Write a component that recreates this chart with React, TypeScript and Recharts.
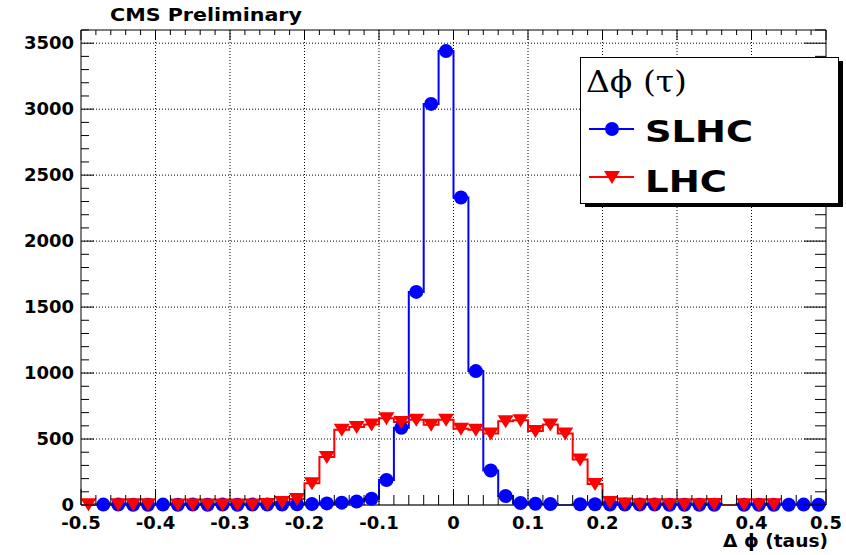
import { LineChart, Line, XAxis, YAxis, CartesianGrid, Legend, Label, ReferenceLine } from 'recharts';

// bin centres, 0.02 wide bins from -0.5 to 0.5
const binCenters = [
  -0.49, -0.47, -0.45, -0.43, -0.41, -0.39, -0.37, -0.35, -0.33, -0.31,
  -0.29, -0.27, -0.25, -0.23, -0.21, -0.19, -0.17, -0.15, -0.13, -0.11,
  -0.09, -0.07, -0.05, -0.03, -0.01, 0.01, 0.03, 0.05, 0.07, 0.09,
  0.11, 0.13, 0.15, 0.17, 0.19, 0.21, 0.23, 0.25, 0.27, 0.29,
  0.31, 0.33, 0.35, 0.37, 0.39, 0.41, 0.43, 0.45, 0.47, 0.49,
];

const slhcCounts = [
  0, 3, 3, 2, 2, 3, 2, 3, 2, 3,
  2, 3, 3, 4, 5, 7, 12, 18, 27, 47,
  190, 585, 1615, 3040, 3440, 2330, 1015, 262, 68, 15,
  10, 8, 0, 6, 6, 4, 3, 3, 3, 2,
  2, 2, 2, 0, 2, 2, 2, 2, 3, 2,
];

const lhcCounts = [
  5, 0, 5, 5, 5, 0, 4, 4, 4, 4,
  4, 4, 8, 22, 45, 165, 363, 570, 592, 610,
  658, 630, 646, 608, 646, 578, 570, 542, 634, 642,
  560, 610, 542, 345, 160, 22, 12, 5, 5, 5,
  5, 5, 8, 0, 5, 5, 5, 0, 0, 0,
];

const xMajorTicks = [-0.5, -0.4, -0.3, -0.2, -0.1, 0, 0.1, 0.2, 0.3, 0.4, 0.5];
const yMajorTicks = [0, 500, 1000, 1500, 2000, 2500, 3000, 3500];

const data = binCenters.map((x, i) => ({ x, slhc: slhcCounts[i], lhc: lhcCounts[i] }));

const xTicks = Array.from({ length: 51 }, (_, i) => Number((-0.5 + i * 0.02).toFixed(2)));
const yTicks = Array.from({ length: 37 }, (_, i) => i * 100);

const PLOT_TOP = 30;
const PLOT_RIGHT = 826;
const FONT = 'DejaVu Sans';

const isMajorX = (v: number) => xMajorTicks.some((m) => Math.abs(m - v) < 1e-6);
const fmtX = (v: number) => (Math.abs(v) < 1e-9 ? '0' : v.toFixed(1));

function XTick(props: any) {
  const { x, y, payload } = props;
  const v = payload.value;
  const major = isMajorX(v);
  return (
    <g>
      <line x1={x} x2={x} y1={y} y2={y - (major ? 16 : 10)} stroke="#000" />
      <line x1={x} x2={x} y1={PLOT_TOP} y2={PLOT_TOP + (major ? 10 : 5)} stroke="#000" />
      {major && (
        <text x={x} y={y + 24} textAnchor="middle" fontFamily={FONT} fontWeight="bold" fontSize={18} fill="#000">
          {fmtX(v)}
        </text>
      )}
    </g>
  );
}

function YTick(props: any) {
  const { x, y, payload } = props;
  const v = payload.value;
  const major = v % 500 === 0 && v <= 3500;
  return (
    <g>
      <line x1={x} x2={x + (major ? 13 : 8)} y1={y} y2={y} stroke="#000" />
      <line x1={PLOT_RIGHT - (major ? 22 : 11)} x2={PLOT_RIGHT} y1={y} y2={y} stroke="#000" />
      {major && (
        <text x={x - 7} y={y + 5.5} textAnchor="end" fontFamily={FONT} fontWeight="bold" fontSize={18} fill="#000">
          {v}
        </text>
      )}
    </g>
  );
}

function CircleDot(props: any) {
  const { cx, cy, payload, index } = props;
  if (!payload.slhc) return <g key={`c${index}`} />;
  return <circle key={`c${index}`} cx={cx} cy={cy} r={7} fill="#0000ff" />;
}

function TriangleDot(props: any) {
  const { cx, cy, payload, index } = props;
  if (!payload.lhc) return <g key={`t${index}`} />;
  return (
    <polygon
      key={`t${index}`}
      points={`${cx - 8},${cy - 6} ${cx + 8},${cy - 6} ${cx},${cy + 7}`}
      fill="#ff0000"
    />
  );
}

function LegendBox() {
  return (
    <svg width={266} height={152} style={{ display: 'block' }}>
      <rect x={5} y={4} width={258} height={146} fill="#000" />
      <rect x={0.5} y={0.5} width={258} height={146} fill="#fff" stroke="#000" />
      <text x={6} y={35} fontFamily="DejaVu Serif" fontSize={29} textLength={101} lengthAdjust="spacingAndGlyphs" fill="#000">
        Δϕ (τ)
      </text>
      <line x1={9} x2={54} y1={72} y2={72} stroke="#0000ff" strokeWidth={2} />
      <circle cx={32} cy={72} r={7} fill="#0000ff" />
      <text x={65} y={85} fontFamily={FONT} fontWeight="bold" fontSize={30} textLength={108} lengthAdjust="spacingAndGlyphs" fill="#000">
        SLHC
      </text>
      <line x1={9} x2={54} y1={120} y2={120} stroke="#ff0000" strokeWidth={2} />
      <polygon points="24,114 40,114 32,127" fill="#ff0000" />
      <text x={65} y={135} fontFamily={FONT} fontWeight="bold" fontSize={30} textLength={82} lengthAdjust="spacingAndGlyphs" fill="#000">
        LHC
      </text>
    </svg>
  );
}

export default function App() {
  return (
    <div style={{ position: 'absolute', left: 0, top: 0, width: 846, height: 555, background: '#fff' }}>
      <LineChart width={846} height={555} data={data} margin={{ top: 30, right: 20, bottom: 0, left: 0 }}>
        <CartesianGrid
          stroke="#000"
          strokeDasharray="1 2"
          horizontalValues={yMajorTicks.filter((v) => v > 0)}
          verticalValues={xMajorTicks.filter((v) => v > -0.5 && v < 0.5)}
        />
        <XAxis
          type="number"
          dataKey="x"
          domain={[-0.5, 0.5]}
          ticks={xTicks}
          interval={0}
          height={50}
          tickSize={0}
          tickMargin={0}
          tickLine={false}
          tick={<XTick />}
          axisLine={{ stroke: '#333', strokeWidth: 1.5 }}
        >
          <Label
            content={() => (
              <text x={828} y={547} textAnchor="end" fontFamily={FONT} fontWeight="bold" fontSize={17} textLength={105} lengthAdjust="spacingAndGlyphs" fill="#000">
                Δ ϕ (taus)
              </text>
            )}
          />
        </XAxis>
        <YAxis
          type="number"
          domain={[0, 3600]}
          ticks={yTicks}
          interval={0}
          width={81}
          tickSize={0}
          tickMargin={0}
          tickLine={false}
          tick={<YTick />}
          axisLine={{ stroke: '#555', strokeWidth: 1.5 }}
        >
          <Label
            content={() => (
              <text x={110} y={21} fontFamily={FONT} fontWeight="bold" fontSize={18} textLength={192} lengthAdjust="spacingAndGlyphs" fill="#000">
                CMS Preliminary
              </text>
            )}
          />
        </YAxis>
        <ReferenceLine y={3600} stroke="#000" />
        <ReferenceLine x={0.5} stroke="#000" />
        <Line
          type="step"
          dataKey="slhc"
          stroke="#0000ff"
          strokeWidth={2}
          dot={CircleDot}
          activeDot={false}
          isAnimationActive={false}
        />
        <Line
          type="step"
          dataKey="lhc"
          stroke="#ff0000"
          strokeWidth={2}
          dot={TriangleDot}
          activeDot={false}
          isAnimationActive={false}
        />
        <Legend
          layout="horizontal"
          verticalAlign="middle"
          align="center"
          wrapperStyle={{ position: 'absolute', left: 580, top: 57, width: 266, height: 152 }}
          content={() => <LegendBox />}
        />
      </LineChart>
    </div>
  );
}
